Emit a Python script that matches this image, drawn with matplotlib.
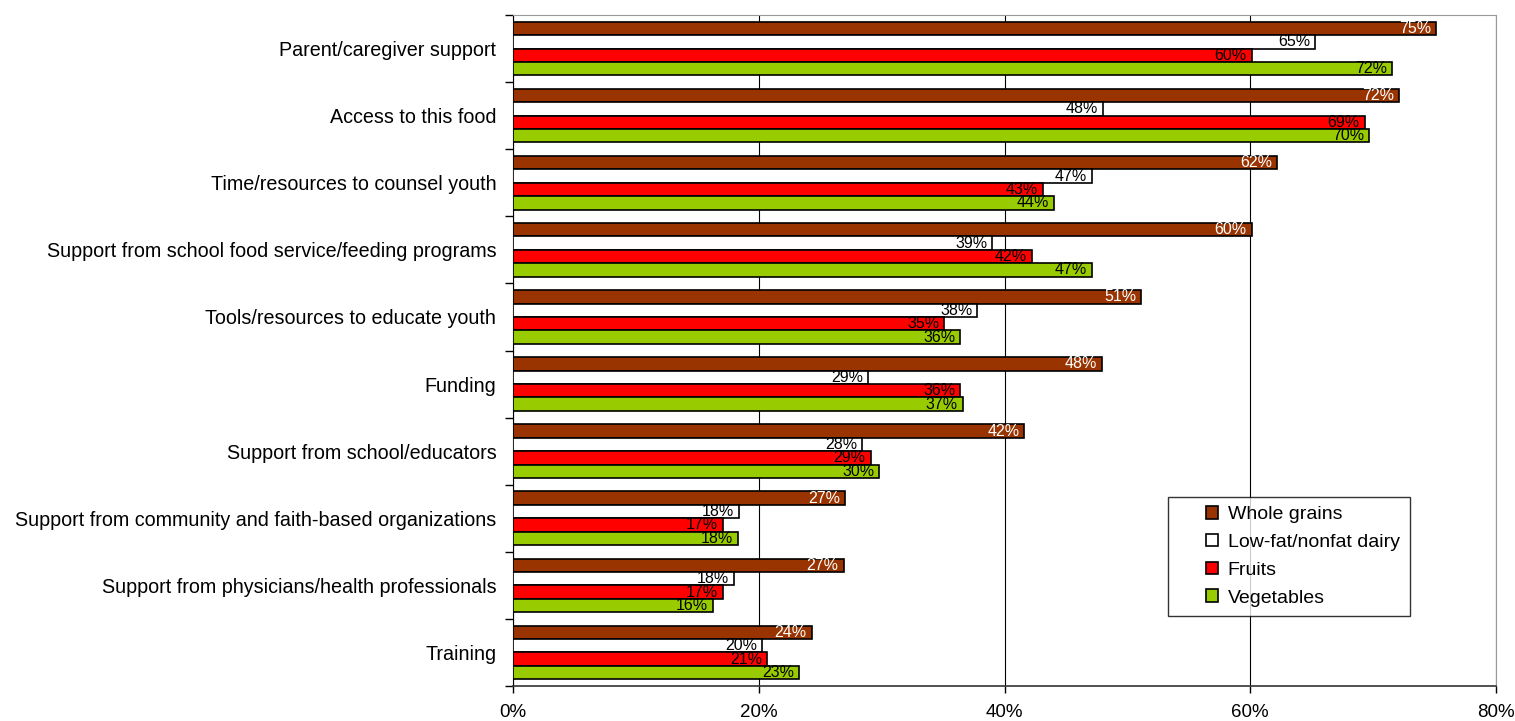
import matplotlib
matplotlib.use("Agg")
import matplotlib.pyplot as plt
from matplotlib.patches import Rectangle
from matplotlib.legend_handler import HandlerPatch
import numpy as np

plt.rcParams['font.family'] = ['Liberation Sans', 'DejaVu Sans']

categories = [
    "Parent/caregiver support",
    "Access to this food",
    "Time/resources to counsel youth",
    "Support from school food service/feeding programs",
    "Tools/resources to educate youth",
    "Funding",
    "Support from school/educators",
    "Support from community and faith-based organizations",
    "Support from physicians/health professionals",
    "Training",
]

whole_grains = [75.1, 72.1, 62.2, 60.1, 51.1, 47.9, 41.6, 27.0, 26.9, 24.3]
lowfat_dairy = [65.3, 48.0, 47.1, 39.0, 37.8, 28.9, 28.4, 18.4, 18.0, 20.3]
fruits = [60.1, 69.3, 43.1, 42.2, 35.1, 36.4, 29.1, 17.1, 17.1, 20.7]
vegetables = [71.5, 69.7, 44.0, 47.1, 36.4, 36.6, 29.8, 18.3, 16.3, 23.3]

series = [
    ("Whole grains", whole_grains, "#993300", "white"),
    ("Low-fat/nonfat dairy", lowfat_dairy, "#ffffff", "black"),
    ("Fruits", fruits, "#ff0000", "black"),
    ("Vegetables", vegetables, "#99cc00", "black"),
]

fig = plt.figure(figsize=(15.15, 7.21), dpi=100)
ax = fig.add_axes([0.3386, 0.0485, 0.6489, 0.9307])

y = np.arange(len(categories))
h = 0.2
handles = []
for k, (name, vals, col, tcol) in enumerate(series):
    pos = y - 0.3 + k * h
    ax.barh(pos, vals, height=h, color=col, edgecolor="black", linewidth=1.2, zorder=3)
    for p, v in zip(pos, vals):
        ax.text(v - 0.4, p, f"{v:.0f}%", ha="right", va="center", fontsize=11.5, color=tcol, zorder=4)
    handles.append(Rectangle((0, 0), 1, 1, facecolor=col, edgecolor="black", linewidth=1.2, label=name))

ax.set_xlim(0, 80)
ax.set_ylim(len(categories) - 0.5, -0.5)
ax.set_xticks([0, 20, 40, 60, 80])
ax.set_xticklabels(["0%", "20%", "40%", "60%", "80%"], fontsize=13.5)
ax.xaxis.grid(True, color="black", linewidth=0.8, zorder=0)

ax.set_yticks(y)
ax.set_yticklabels(categories, fontsize=14.2)
ax.tick_params(axis="y", which="major", length=0, pad=12)
ax.set_yticks(np.arange(-0.5, len(categories)), minor=True)
ax.tick_params(axis="y", which="minor", length=6, width=1)
ax.tick_params(axis="x", length=5, width=1, pad=8)

ax.spines["top"].set_color("#999999")
ax.spines["right"].set_color("#999999")
ax.spines["left"].set_color("black")
ax.spines["bottom"].set_color("#333333")
ax.spines["bottom"].set_linewidth(1.2)


# small square sitting at the right end of the handle area
def square_patch(legend, orig_handle, xdescent, ydescent, width, height, fontsize):
    return Rectangle((-xdescent + width - height, -ydescent), height, height)


leg = ax.legend(handles=handles, loc="lower right", bbox_to_anchor=(0.912, 0.104), fontsize=14,
                frameon=True, fancybox=False, edgecolor="black",
                handlelength=2.1, handleheight=0.6, handletextpad=0.5,
                labelspacing=0.55, borderpad=0.5, borderaxespad=0,
                handler_map={Rectangle: HandlerPatch(patch_func=square_patch)})
leg.get_frame().set_linewidth(1.0)
leg.set_zorder(5)

fig.savefig("out.png", dpi=100)
